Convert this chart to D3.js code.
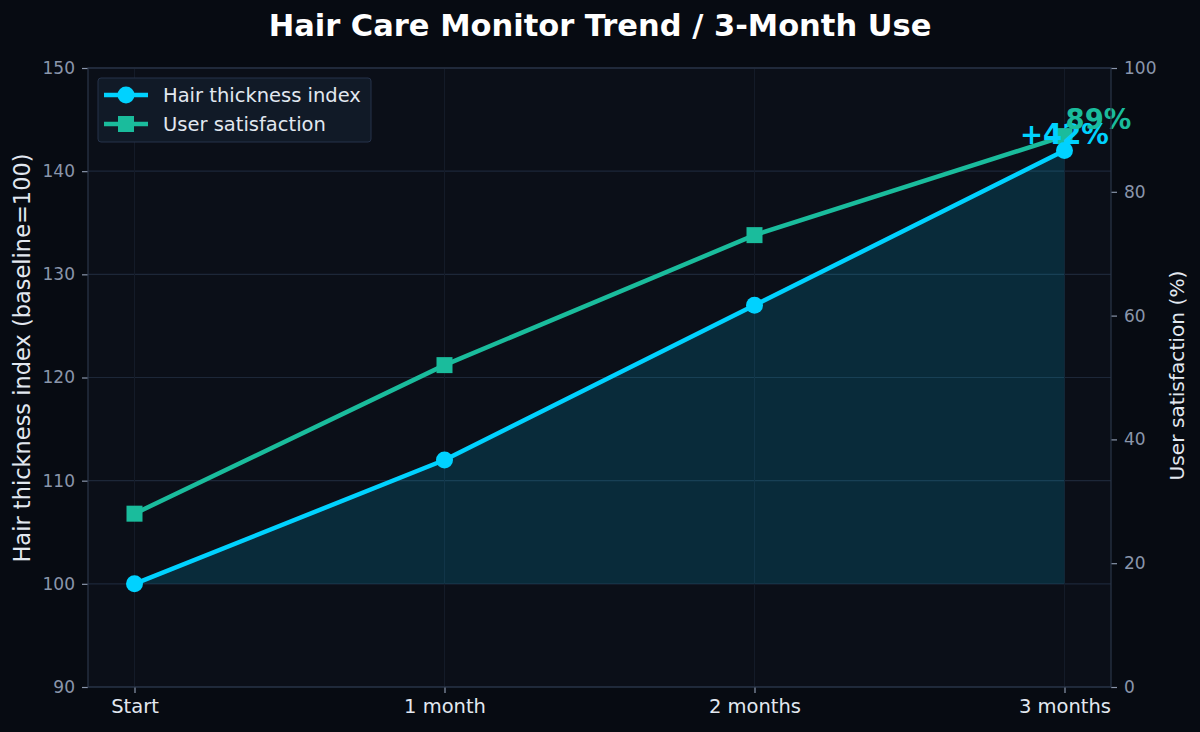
<!DOCTYPE html>
<html>
<head>
<meta charset="utf-8">
<script src="https://cdn.jsdelivr.net/npm/d3@7"></script>
<style>
  body { margin: 0; background: #070b12; }
  svg { display: block; font-family: "DejaVu Sans", sans-serif; }
</style>
</head>
<body>
<div id="chart"></div>
<script>
// data
const stages = ["Start", "1 month", "2 months", "3 months"];
const thickness = [100, 112, 127, 142];
const satisfaction = [28, 52, 73, 89];
const leftTicks = [90, 100, 110, 120, 130, 140, 150];
const rightTicks = [0, 20, 40, 60, 80, 100];

const W = 1200, H = 732;
const margin = { top: 68, right: 89, bottom: 45, left: 88 };
const plotW = W - margin.left - margin.right;
const plotH = H - margin.top - margin.bottom;

const cyan = "#00d2ff";
const teal = "#1abc9c";
const gridColor = "#1d2738";
const spineColor = "#2b3649";

const svg = d3.select("#chart").append("svg")
  .attr("width", W).attr("height", H);

svg.append("rect").attr("width", W).attr("height", H).attr("fill", "#070b12");

const g = svg.append("g").attr("transform", `translate(${margin.left},${margin.top})`);

g.append("rect").attr("width", plotW).attr("height", plotH).attr("fill", "#0b0f18");

// x uses matplotlib-like 5% padding around the 4 stages
const x = d3.scaleLinear().domain([-0.15, 3.15]).range([0, plotW]);
const yL = d3.scaleLinear().domain([90, 150]).range([plotH, 0]);
const yR = d3.scaleLinear().domain([0, 100]).range([plotH, 0]);

// grid
g.append("g").selectAll("line").data(leftTicks).join("line")
  .attr("x1", 0).attr("x2", plotW)
  .attr("y1", d => yL(d)).attr("y2", d => yL(d))
  .attr("stroke", gridColor).attr("stroke-width", 1.2);
g.append("g").selectAll("line").data(stages).join("line")
  .attr("x1", (d, i) => x(i)).attr("x2", (d, i) => x(i))
  .attr("y1", 0).attr("y2", plotH)
  .attr("stroke", "#141b28").attr("stroke-width", 1);

// area under thickness
const area = d3.area()
  .x((d, i) => x(i))
  .y0(yL(100))
  .y1(d => yL(d));
g.append("path").datum(thickness)
  .attr("d", area)
  .attr("fill", cyan).attr("fill-opacity", 0.15);

// lines
const lineL = d3.line().x((d, i) => x(i)).y(d => yL(d));
const lineR = d3.line().x((d, i) => x(i)).y(d => yR(d));

g.append("path").datum(satisfaction)
  .attr("d", lineR).attr("fill", "none")
  .attr("stroke", teal).attr("stroke-width", 4.5).attr("stroke-linejoin", "round");
g.selectAll(".sq").data(satisfaction).join("rect")
  .attr("class", "sq")
  .attr("x", (d, i) => x(i) - 8).attr("y", d => yR(d) - 8)
  .attr("width", 16).attr("height", 16).attr("fill", teal);

g.append("path").datum(thickness)
  .attr("d", lineL).attr("fill", "none")
  .attr("stroke", cyan).attr("stroke-width", 4.5).attr("stroke-linejoin", "round");
g.selectAll(".dot").data(thickness).join("circle")
  .attr("class", "dot")
  .attr("cx", (d, i) => x(i)).attr("cy", d => yL(d))
  .attr("r", 8.5).attr("fill", cyan);

// end labels
const last = stages.length - 1;
g.append("text")
  .attr("x", x(last)).attr("y", yL(thickness[last]) - 7)
  .attr("text-anchor", "middle")
  .attr("fill", cyan).attr("font-size", 27.5).attr("font-weight", "bold")
  .text(`+${thickness[last] - thickness[0]}%`);
g.append("text")
  .attr("x", x(last) + 1).attr("y", yR(satisfaction[last]) - 7)
  .attr("text-anchor", "start")
  .attr("fill", teal).attr("font-size", 27.5).attr("font-weight", "bold")
  .text(`${satisfaction[last]}%`);

// axes
const styleAxis = (sel, color, size) => {
  sel.select(".domain").remove();
  sel.selectAll(".tick line").attr("stroke", "#8a96ab").attr("stroke-width", 1.2);
  sel.selectAll(".tick text").attr("fill", color).attr("font-size", size)
    .attr("font-family", "DejaVu Sans, sans-serif");
};

g.append("g")
  .call(d3.axisLeft(yL).tickValues(leftTicks).tickSize(6).tickPadding(7))
  .call(s => styleAxis(s, "#8a96ab", 17));

g.append("g").attr("transform", `translate(${plotW},0)`)
  .call(d3.axisRight(yR).tickValues(rightTicks).tickSize(6).tickPadding(7))
  .call(s => styleAxis(s, "#8a96ab", 17));

g.append("g").attr("transform", `translate(0,${plotH})`)
  .call(d3.axisBottom(x).tickValues(d3.range(stages.length)).tickFormat(i => stages[i]).tickSize(6).tickPadding(6))
  .call(s => styleAxis(s, "#e2e8f0", 19.5));

// spines
g.append("rect").attr("width", plotW).attr("height", plotH)
  .attr("fill", "none").attr("stroke", spineColor).attr("stroke-width", 1.2);

// axis titles
svg.append("text")
  .attr("transform", `translate(30,358) rotate(-90)`)
  .attr("text-anchor", "middle").attr("fill", "#e2e8f0").attr("font-size", 22.5)
  .text("Hair thickness index (baseline=100)");
svg.append("text")
  .attr("transform", `translate(1184,${margin.top + plotH / 2 - 2}) rotate(-90)`)
  .attr("text-anchor", "middle").attr("fill", "#e2e8f0").attr("font-size", 20.2)
  .text("User satisfaction (%)");

// title
svg.append("text")
  .attr("x", W / 2).attr("y", 36)
  .attr("text-anchor", "middle").attr("fill", "#ffffff")
  .attr("font-size", 30.5).attr("font-weight", "bold")
  .text("Hair Care Monitor Trend / 3-Month Use");

// legend
const legend = svg.append("g").attr("transform", "translate(98,78)");
legend.append("rect").attr("width", 273).attr("height", 64).attr("rx", 3)
  .attr("fill", "#111a27").attr("stroke", "#26324a").attr("stroke-width", 1);
const items = [
  { name: "Hair thickness index", color: cyan, shape: "circle" },
  { name: "User satisfaction", color: teal, shape: "square" }
];
items.forEach((it, i) => {
  const row = legend.append("g").attr("transform", `translate(0,${17 + i * 29})`);
  row.append("line").attr("x1", 6).attr("x2", 50)
    .attr("stroke", it.color).attr("stroke-width", 4.5);
  if (it.shape === "circle") {
    row.append("circle").attr("cx", 28).attr("r", 8.5).attr("fill", it.color);
  } else {
    row.append("rect").attr("x", 20).attr("y", -8).attr("width", 16).attr("height", 16).attr("fill", it.color);
  }
  row.append("text").attr("x", 65).attr("y", 7)
    .attr("fill", "#e2e8f0").attr("font-size", 19.5).text(it.name);
});
</script>
</body>
</html>
